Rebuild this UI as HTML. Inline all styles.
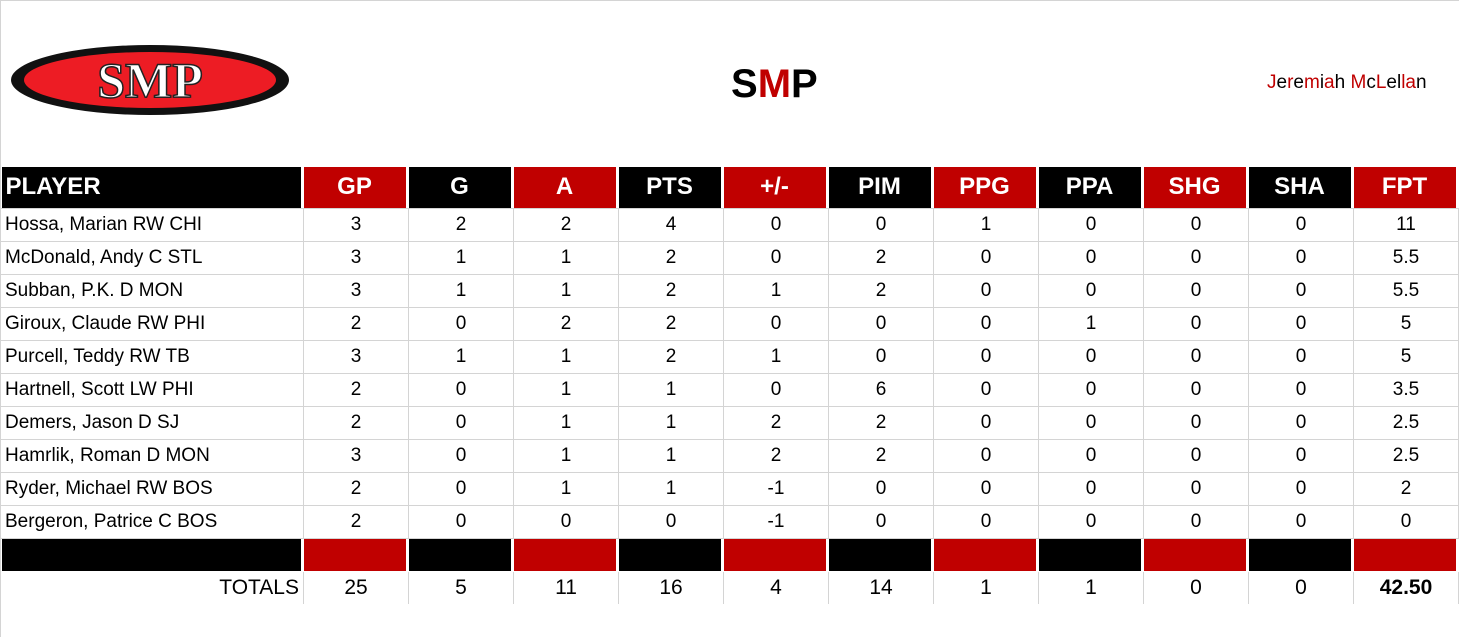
<!DOCTYPE html>
<html><head><meta charset="utf-8"><style>
body{margin:0;width:1459px;height:637px;background:#fff;position:relative;overflow:hidden;font-family:"Liberation Sans",Arial,sans-serif}
.frame{position:absolute;left:0;top:0;width:1458px;height:636px;border-left:1px solid #d4d4d4;border-top:1px solid #d4d4d4}
table{position:absolute;left:0;top:166px;border-collapse:collapse;table-layout:fixed}
td{padding:0;height:32px;border:1px solid #d4d4d4;font-size:19px;text-align:center;color:#000;white-space:nowrap;overflow:hidden}
td:first-child{text-align:left;padding-left:4px}
tr.h td{height:40px;border:none;padding:1px 3px 1px 0;background-clip:content-box;color:#fff;font-weight:bold;font-size:24px}
tr.h td:first-child{padding-left:1px;text-indent:4px}
tr.b td{height:32px;border:none;padding:0 3px 1px 0;background-clip:content-box}
tr.b td:first-child{padding-left:1px}
.k{background:#000}.r{background:#c00000}
tr.t td{border-top:none;border-bottom:none;font-size:21px}
tr.t td:first-child{border-left:none;text-align:right;padding-right:4px}
.red{color:#c00000}
</style></head><body>
<div class="frame"></div>
<svg style="position:absolute;left:10px;top:42px" width="282" height="80">
<ellipse cx="140" cy="38" rx="139" ry="35" fill="#111"/>
<ellipse cx="140" cy="38" rx="126" ry="28" fill="#ed1c24"/>
<text x="140" y="55" text-anchor="middle" font-family="Liberation Serif,serif" font-size="50" font-weight="bold" fill="#fff" stroke="#222" stroke-width="1.5">SMP</text>
</svg>
<div style="position:absolute;left:731px;top:62px;font-size:40px;font-weight:bold">S<span class="red">M</span>P</div>
<div style="position:absolute;left:1267px;top:72px;font-size:19px"><span class="red">J</span>e<span class="red">r</span>e<span class="red">m</span>i<span class="red">a</span>h <span class="red">M</span>c<span class="red">L</span>el<span class="red">la</span>n</div>
<table>
<colgroup><col style="width:303px"><col style="width:105px"><col style="width:105px"><col style="width:105px"><col style="width:105px"><col style="width:105px"><col style="width:105px"><col style="width:105px"><col style="width:105px"><col style="width:105px"><col style="width:105px"><col style="width:105px"></colgroup>
<tr class="h"><td class="k">PLAYER</td><td class="r">GP</td><td class="k">G</td><td class="r">A</td><td class="k">PTS</td><td class="r">+/-</td><td class="k">PIM</td><td class="r">PPG</td><td class="k">PPA</td><td class="r">SHG</td><td class="k">SHA</td><td class="r">FPT</td></tr>
<tr><td>Hossa, Marian RW CHI</td><td>3</td><td>2</td><td>2</td><td>4</td><td>0</td><td>0</td><td>1</td><td>0</td><td>0</td><td>0</td><td>11</td></tr>
<tr><td>McDonald, Andy C STL</td><td>3</td><td>1</td><td>1</td><td>2</td><td>0</td><td>2</td><td>0</td><td>0</td><td>0</td><td>0</td><td>5.5</td></tr>
<tr><td>Subban, P.K. D MON</td><td>3</td><td>1</td><td>1</td><td>2</td><td>1</td><td>2</td><td>0</td><td>0</td><td>0</td><td>0</td><td>5.5</td></tr>
<tr><td>Giroux, Claude RW PHI</td><td>2</td><td>0</td><td>2</td><td>2</td><td>0</td><td>0</td><td>0</td><td>1</td><td>0</td><td>0</td><td>5</td></tr>
<tr><td>Purcell, Teddy RW TB</td><td>3</td><td>1</td><td>1</td><td>2</td><td>1</td><td>0</td><td>0</td><td>0</td><td>0</td><td>0</td><td>5</td></tr>
<tr><td>Hartnell, Scott LW PHI</td><td>2</td><td>0</td><td>1</td><td>1</td><td>0</td><td>6</td><td>0</td><td>0</td><td>0</td><td>0</td><td>3.5</td></tr>
<tr><td>Demers, Jason D SJ</td><td>2</td><td>0</td><td>1</td><td>1</td><td>2</td><td>2</td><td>0</td><td>0</td><td>0</td><td>0</td><td>2.5</td></tr>
<tr><td>Hamrlik, Roman D MON</td><td>3</td><td>0</td><td>1</td><td>1</td><td>2</td><td>2</td><td>0</td><td>0</td><td>0</td><td>0</td><td>2.5</td></tr>
<tr><td>Ryder, Michael RW BOS</td><td>2</td><td>0</td><td>1</td><td>1</td><td>-1</td><td>0</td><td>0</td><td>0</td><td>0</td><td>0</td><td>2</td></tr>
<tr><td>Bergeron, Patrice C BOS</td><td>2</td><td>0</td><td>0</td><td>0</td><td>-1</td><td>0</td><td>0</td><td>0</td><td>0</td><td>0</td><td>0</td></tr>
<tr class="b"><td class="k"></td><td class="r"></td><td class="k"></td><td class="r"></td><td class="k"></td><td class="r"></td><td class="k"></td><td class="r"></td><td class="k"></td><td class="r"></td><td class="k"></td><td class="r"></td></tr>
<tr class="t"><td>TOTALS</td><td>25</td><td>5</td><td>11</td><td>16</td><td>4</td><td>14</td><td>1</td><td>1</td><td>0</td><td>0</td><td style="font-weight:bold">42.50</td></tr>
</table>
</body></html>
